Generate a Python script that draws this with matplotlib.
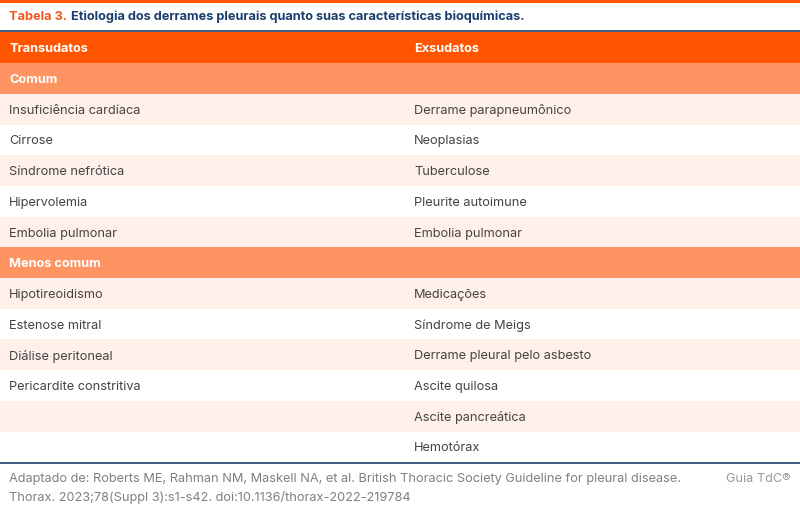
"""Tabela 3: etiologia dos derrames pleurais (recriação em matplotlib)."""

import matplotlib

matplotlib.use("Agg")
import matplotlib.pyplot as plt
from matplotlib.patches import Rectangle

plt.rcParams["font.family"] = ["Inter", "DejaVu Sans"]

TITLE_LABEL = "Tabela 3."
TITLE_TEXT = "Etiologia dos derrames pleurais quanto suas características bioquímicas."
COLUMN_HEADERS = ["Transudatos", "Exsudatos"]

GROUP_COMMON = "Comum"
TRANSUDATOS_COMUM = [
    "Insuficiência cardíaca",
    "Cirrose",
    "Síndrome nefrótica",
    "Hipervolemia",
    "Embolia pulmonar",
]
EXSUDATOS_COMUM = [
    "Derrame parapneumônico",
    "Neoplasias",
    "Tuberculose",
    "Pleurite autoimune",
    "Embolia pulmonar",
]

GROUP_LESS = "Menos comum"
TRANSUDATOS_MENOS = [
    "Hipotireoidismo",
    "Estenose mitral",
    "Diálise peritoneal",
    "Pericardite constritiva",
    "",
    "",
]
EXSUDATOS_MENOS = [
    "Medicações",
    "Síndrome de Meigs",
    "Derrame pleural pelo asbesto",
    "Ascite quilosa",
    "Ascite pancreática",
    "Hemotórax",
]

FOOTNOTE = (
    "Adaptado de: Roberts ME, Rahman NM, Maskell NA, et al. British Thoracic "
    "Society Guideline for pleural disease.\n"
    "Thorax. 2023;78(Suppl 3):s1-s42. doi:10.1136/thorax-2022-219784"
)
BRAND = "Guia TdC®"

ORANGE = "#ff5500"
ORANGE_SOFT = "#ff9463"
ROW_TINT = "#fff0ea"
NAVY = "#1b3f6e"
TEXT = "#444444"
GREY = "#808080"

W, H = 800, 511
ROW_H = 30.7
COL_X = [9, 414]
FS = 9.2
DY = 1.5  # nudge text toward the visual centre of each row


def band(ax, y, h, color):
    ax.add_patch(Rectangle((0, y), W, h, facecolor=color, edgecolor="none", zorder=1))


def main():
    fig = plt.figure(figsize=(W / 100, H / 100), dpi=100)
    ax = fig.add_axes([0, 0, 1, 1])
    ax.set_xlim(0, W)
    ax.set_ylim(H, 0)
    ax.axis("off")

    # top accent and title
    band(ax, 0, 3, ORANGE)
    title = ax.text(COL_X[0], 17, TITLE_LABEL, color="#f05a22", fontsize=FS,
                    fontweight="bold", va="center", ha="left", zorder=3)
    fig.canvas.draw()
    bb = title.get_window_extent()
    ax.text(bb.x1 + 4, 17, TITLE_TEXT, color=NAVY, fontsize=FS,
            fontweight="bold", va="center", ha="left", zorder=3)
    ax.plot([0, W], [31.5, 31.5], color=NAVY, linewidth=1.2, zorder=3)

    # header row
    y = 32.5
    band(ax, y, ROW_H, ORANGE)
    for x, label in zip(COL_X, COLUMN_HEADERS):
        ax.text(x, y + ROW_H / 2 + DY, label, color="white", fontsize=FS,
                fontweight="bold", va="center", ha="left", zorder=3)
    y += ROW_H

    groups = [
        (GROUP_COMMON, TRANSUDATOS_COMUM, EXSUDATOS_COMUM),
        (GROUP_LESS, TRANSUDATOS_MENOS, EXSUDATOS_MENOS),
    ]
    for name, left, right in groups:
        band(ax, y, ROW_H, ORANGE_SOFT)
        ax.text(COL_X[0], y + ROW_H / 2 + DY, name, color="white", fontsize=FS,
                fontweight="bold", va="center", ha="left", zorder=3)
        y += ROW_H
        for i, (a, b) in enumerate(zip(left, right)):
            if i % 2 == 0:
                band(ax, y, ROW_H, ROW_TINT)
            for x, label in zip(COL_X, (a, b)):
                ax.text(x, y + ROW_H / 2 + DY, label, color=TEXT, fontsize=FS,
                        va="center", ha="left", zorder=3)
            y += ROW_H

    ax.plot([0, W], [y + 0.5, y + 0.5], color=NAVY, linewidth=1.2, zorder=3)

    ax.text(COL_X[0], y + 11, FOOTNOTE, color=GREY, fontsize=FS, va="top",
            ha="left", linespacing=1.55, zorder=3)
    ax.text(791, y + 11, BRAND, color="#999999", fontsize=FS, va="top",
            ha="right", zorder=3)

    fig.savefig("out.png", dpi=100, facecolor="white")
    plt.close(fig)


if __name__ == "__main__":
    main()
